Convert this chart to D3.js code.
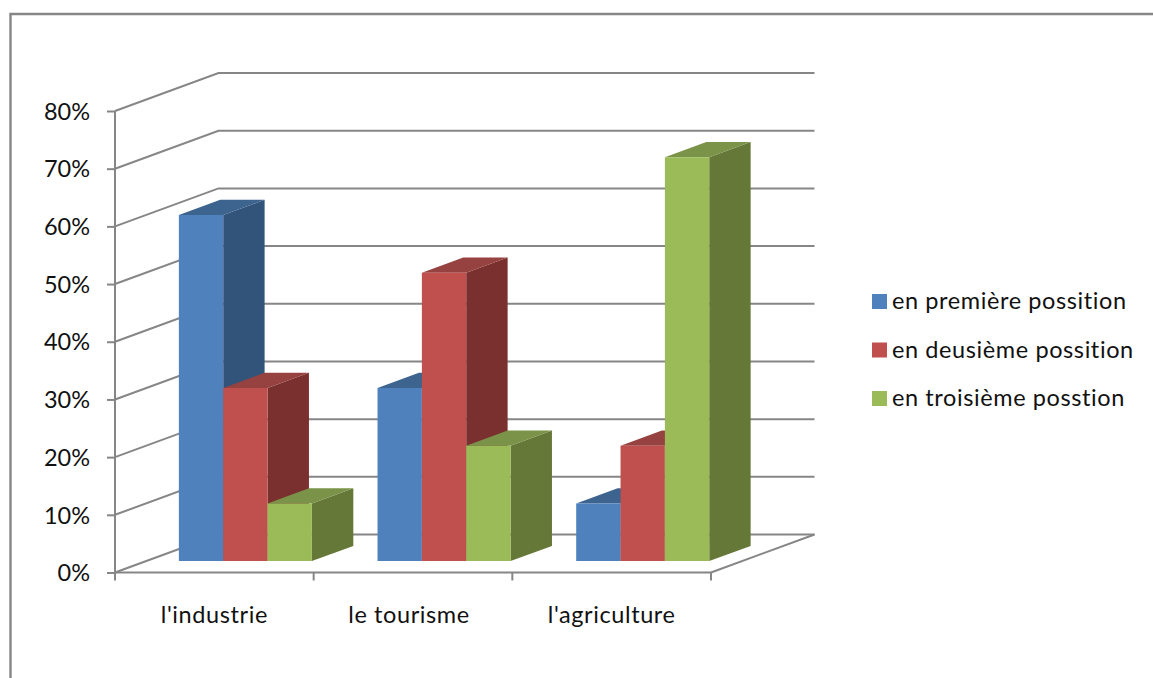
<!DOCTYPE html>
<html lang="fr">
<head>
<meta charset="utf-8">
<script src="https://cdn.jsdelivr.net/npm/d3@7"></script>
<style>
  html, body { margin: 0; padding: 0; background: #fff; }
  svg { display: block; }
  text { font-family: Lato, "Open Sans", sans-serif; fill: #111; font-variant-ligatures: none; }
</style>
</head>
<body>
<svg id="chart" width="1153" height="678"></svg>
<script>
// Chart content
const categories = ["l'industrie", "le tourisme", "l'agriculture"];
const seriesNames = ["en première possition", "en deusième possition", "en troisième posstion"];
const premiere = [60, 30, 10];
const deuxieme = [30, 50, 20];
const troisieme = [10, 20, 70];
const yTicks = [0, 10, 20, 30, 40, 50, 60, 70, 80];

// Shades of each series: front face, top face, side face
const frontColors = ["#4f81bd", "#c0504d", "#9bbb59"];
const topColors = ["#3c648f", "#964240", "#7a9349"];
const sideColors = ["#32537a", "#7a302e", "#657838"];

const seriesValues = [premiere, deuxieme, troisieme];
const svg = d3.select("#chart");
const axisColor = "#868686";
const labelSize = 23.5;
const labelSpacing = 0.6;

// Scales of the front plane of the box
const x = d3.scaleBand().domain(categories).range([115, 711]);
const y = d3.scaleLinear().domain([0, 80]).range([572.5, 111]);
const xSeries = d3.scaleBand().domain(d3.range(seriesNames.length))
  .range([0, x.step()]).paddingInner(0).paddingOuter(0.74);

// Oblique projection: depth 0 is the front plane, depth 1 the back wall
const depthX = 103.5, depthY = -38;
const project = (px, py, depth) => [px + depth * depthX, py + depth * depthY];
const poly = pts => pts.map(p => p.join(",")).join(" ");

// Chart frame, open on the right and at the bottom
svg.append("path")
  .attr("d", "M10.5,678V14H1153")
  .attr("fill", "none").attr("stroke", axisColor).attr("stroke-width", 2.4);

// Gridlines: along the left wall, then across the back wall
const walls = svg.append("g").attr("fill", "none").attr("stroke", axisColor).attr("stroke-width", 2);
yTicks.forEach(t => {
  const a = project(x.range()[0], y(t), 0);
  const b = project(x.range()[0], y(t), 1);
  const c = project(x.range()[1], y(t), 1);
  walls.append("polyline").attr("points", poly([a, b, c]));
});
// Right edge of the floor
walls.append("polyline").attr("points", poly([
  project(x.range()[1], y(0), 0), project(x.range()[1], y(0), 1)
]));

// Bars sit between these two depths
const barFront = 0.3, barBack = 0.7;
const bars = svg.append("g");
categories.forEach((cat, i) => {
  seriesValues.forEach((values, s) => {
    const x0 = x(cat) + xSeries(s);
    const x1 = x0 + xSeries.bandwidth();
    const yTop = y(values[i]), yBase = y(0);
    const g = bars.append("g");
    g.append("polygon").attr("fill", sideColors[s]).attr("points", poly([
      project(x1, yTop, barFront), project(x1, yTop, barBack),
      project(x1, yBase, barBack), project(x1, yBase, barFront)
    ]));
    g.append("polygon").attr("fill", topColors[s]).attr("points", poly([
      project(x0, yTop, barFront), project(x0, yTop, barBack),
      project(x1, yTop, barBack), project(x1, yTop, barFront)
    ]));
    g.append("polygon").attr("fill", frontColors[s]).attr("points", poly([
      project(x0, yTop, barFront), project(x1, yTop, barFront),
      project(x1, yBase, barFront), project(x0, yBase, barFront)
    ]));
  });
});

// Value axis
const yAxis = svg.append("g")
  .attr("transform", `translate(${x.range()[0]},0)`)
  .call(d3.axisLeft(y).tickValues(yTicks).tickFormat(d => d + "%").tickSize(8).tickPadding(17));
yAxis.selectAll("text").attr("font-size", labelSize).style("font-family", "Lato, sans-serif").attr("dy", "0.35em");

// Category axis: tick marks fall between categories
const xAxis = svg.append("g")
  .attr("transform", `translate(0,${y(0)})`)
  .call(d3.axisBottom(x).tickSize(0).tickPadding(34));
xAxis.selectAll("text")
  .attr("font-size", labelSize)
  .attr("letter-spacing", labelSpacing)
  .style("font-family", "Lato, sans-serif")
  .attr("dy", "0.71em")
  .attr("dx", (d, i) => [0, -4, 0][i]);
xAxis.selectAll(".tick line").remove();
d3.range(categories.length + 1).forEach(i => {
  const px = x.range()[0] + i * x.step();
  xAxis.append("line").attr("x1", px).attr("x2", px).attr("y1", 0).attr("y2", 8);
});
[yAxis, xAxis].forEach(a => {
  a.selectAll("line, path").attr("stroke", axisColor).attr("stroke-width", 2);
  a.select(".domain").attr("d", a === yAxis
    ? `M0,${y(80)}V${y(0)}`
    : `M${x.range()[0]},0H${x.range()[1]}`);
});

// Legend
const legend = svg.append("g").attr("transform", "translate(872,0)");
seriesNames.forEach((name, s) => {
  const top = 294 + s * 48.5;
  legend.append("rect").attr("x", 0).attr("y", top).attr("width", 15).attr("height", 15).attr("fill", frontColors[s]);
  legend.append("text").attr("x", 20).attr("y", top + 15)
    .attr("font-size", labelSize).attr("letter-spacing", labelSpacing).text(name);
});
</script>
</body>
</html>
